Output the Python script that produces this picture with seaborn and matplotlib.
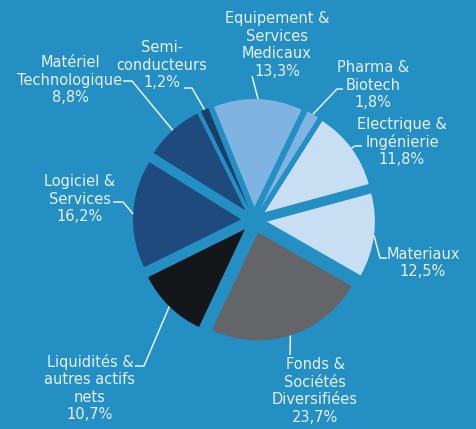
import matplotlib
matplotlib.use("Agg")
import matplotlib.pyplot as plt
import numpy as np
import seaborn as sns

# secteurs, dans le sens horaire depuis "Equipement"
sectors = ["Equipement &\nServices\nMedicaux", "Pharma &\nBiotech", "Electrique &\nIngénierie",
           "Materiaux", "Fonds &\nSociétés\nDiversifiées", "Liquidités &\nautres actifs\nnets",
           "Logiciel &\nServices", "Matériel\nTechnologique", "Semi-\nconducteurs"]
weights = [13.3, 1.8, 11.8, 12.5, 23.7, 10.7, 16.2, 8.8, 1.2]
colors = ["#7fb3e2", "#7fb3e2", "#c8def2", "#c8def2", "#636569",
          "#141719", "#1f4a7d", "#1f4a7d", "#1b3d69"]

BG = "#238fc2"
TXT = "#e8f0f8"
W, H = 476, 429

# placement des étiquettes (pixels, y depuis le haut): texte, coude, fin du trait
label_xy = [(277, 45), (373, 85), (402, 142), (423, 263), (315, 391),
            (90, 388), (80, 199), (70, 80), (162, 65)]
elbows = [(252, 76), (337, 89), (355, 146), (380, 258), (290, 355),
          (144, 366), (123, 202), (132, 81), (192, 88)]
ends = [(252, 76), (343, 89), (362, 146), (387, 258), (290, 355),
        (135, 366), (113, 202), (123, 81), (184, 88)]

sns.set_theme(style="white")
plt.rcParams["font.family"] = ["DejaVu Sans"]

fig = plt.figure(figsize=(W / 100, H / 100), dpi=100, facecolor=BG)
ax = fig.add_axes([0, 0, 1, 1])
ax.set_facecolor(BG)

cx, cy, R = 254, H - 220, 108
# explode en unités de données (pixels)
wedges, _ = ax.pie(weights, colors=colors, startangle=112, counterclock=False,
                   explode=[13] * len(weights), radius=R, center=(cx, cy),
                   wedgeprops=dict(linewidth=0))
ax.set_xlim(0, W)
ax.set_ylim(0, H)
ax.set_aspect("equal")
ax.axis("off")

for w, name, val, (tx, ty), (ex, ey), (fx, fy) in zip(wedges, sectors, weights,
                                                      label_xy, elbows, ends):
    mid = np.deg2rad((w.theta1 + w.theta2) / 2)
    px = w.center[0] + w.r * np.cos(mid)
    py = w.center[1] + w.r * np.sin(mid)
    ax.plot([px, ex, fx], [py, H - ey, H - fy], color=TXT, lw=1.1,
            solid_capstyle="butt")
    pct = f"{val:.1f}%".replace(".", ",")
    ax.text(tx, H - ty, f"{name}\n{pct}", ha="center", va="center",
            color=TXT, fontsize=10.5, linespacing=1.2)

fig.savefig("out.png", dpi=100, facecolor=BG)
